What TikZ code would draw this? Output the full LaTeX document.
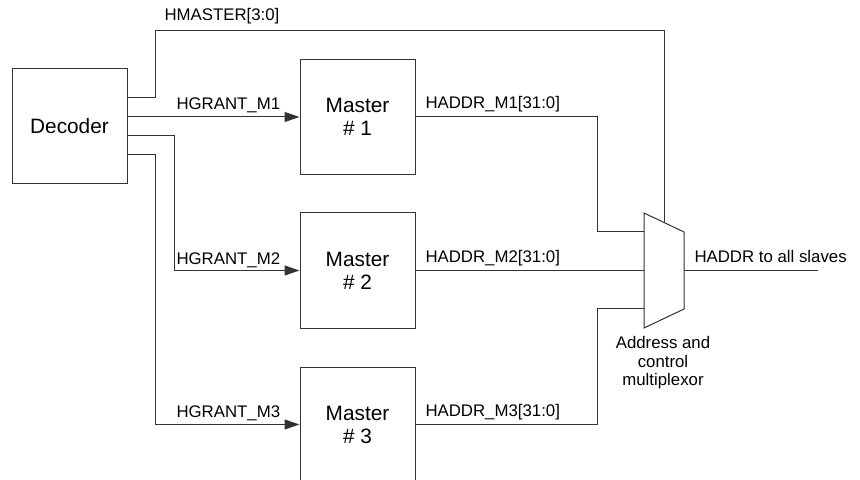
\documentclass[tikz,border=0pt]{standalone}
\usepackage{fontspec}
\setmainfont{Liberation Sans}
\usetikzlibrary{arrows.meta,calc}

\begin{document}
\begin{tikzpicture}[x=0.5pt,y=-0.5pt, line width=0.5pt,
    block/.style={draw=black!80, minimum size=57.5pt, inner sep=0pt, align=center,
      font=\fontsize{10.4}{11.5}\selectfont},
    sig/.style={anchor=base west, inner sep=0pt, font=\fontsize{8.4}{9.3}\selectfont},
    wire/.style={draw=black!80},
    grant/.style={wire, -{Triangle[length=7.5pt,width=5pt]}}]
        \useasboundingbox (0,0) rectangle (860,480);
        \clip (0,0) rectangle (860,480);
        % blocks
        \node [block] (dec) at (69.5,126.5) {Decoder};
        \node [block] (m1) at (357.5,117) {Master\\\# 1};
        \node [block] (m2) at (357.5,270.5) {Master\\\# 2};
        \node [block] (m3) at (357.5,424.5) {Master\\\# 3};
        % multiplexor
        \coordinate (mux-tl) at (644,213);
        \coordinate (mux-tr) at (684,232);
        \coordinate (mux-br) at (684,309);
        \coordinate (mux-bl) at (644,328);
        \coordinate (mux-sel) at (664,222.5);
        \coordinate (mux-i1) at (644,232);
        \coordinate (mux-i2) at (644,270.5);
        \coordinate (mux-i3) at (644,308);
        \coordinate (mux-o) at (684,270.5);
        \coordinate (out) at (818,270.5);
        \draw [wire] (mux-tl) -- (mux-tr) -- (mux-br) -- (mux-bl) -- cycle;
        % decoder ports
        \coordinate (dec-o1) at ($(dec.east)+(0,-28.5)$);
        \coordinate (dec-o2) at ($(dec.east)+(0,-9.5)$);
        \coordinate (dec-o3) at ($(dec.east)+(0,9.5)$);
        \coordinate (dec-o4) at ($(dec.east)+(0,28.5)$);
        % connections
        \draw [wire] (dec-o1) -- ++(28,0) |- (664,31) -- (mux-sel);
        \draw [grant] (dec-o2) -- (m1.west);
        \draw [grant] (dec-o3) -- ++(47,0) |- (m2.west);
        \draw [grant] (dec-o4) -- ++(28,0) |- (m3.west);
        \draw [wire] (m1.east) -- ++(182,0) |- (mux-i1);
        \draw [wire] (m2.east) -- (mux-i2);
        \draw [wire] (m3.east) -- ++(182,0) |- (mux-i3);
        \draw [wire] (mux-o) -- (out);
        % labels
        \node [sig] (l-hmaster) at (164,21) {HMASTER[3:0]};
        \node [sig] (l-g1) at (176,110) {HGRANT\_M1};
        \node [sig] (l-g2) at (176,264) {HGRANT\_M2};
        \node [sig] (l-g3) at (176,417) {HGRANT\_M3};
        \node [sig] (l-a1) at (425,109) {HADDR\_M1[31:0]};
        \node [sig] (l-a2) at (425,263) {HADDR\_M2[31:0]};
        \node [sig] (l-a3) at (425,416) {HADDR\_M3[31:0]};
        \node [sig] (l-out) at (694,263) {HADDR to all slaves};
        \node [sig, anchor=north, align=center] (l-mux) at (663,336) {Address and\\control\\multiplexor};
      \end{tikzpicture}
\end{document}
